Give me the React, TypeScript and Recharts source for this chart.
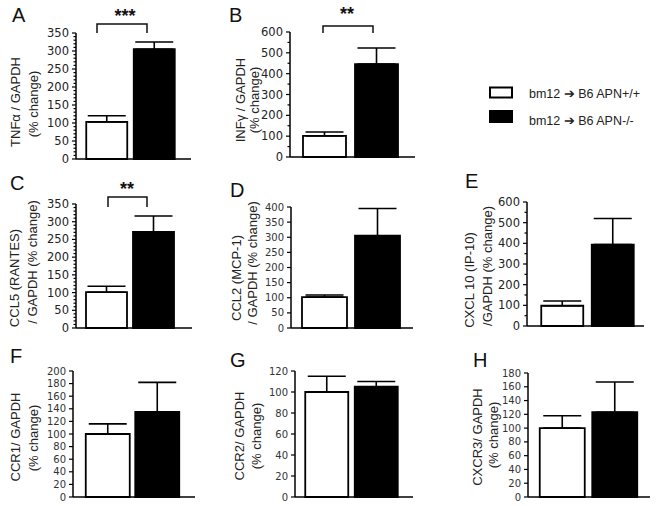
import React from 'react';
import { BarChart, Bar, XAxis, YAxis, Cell, ErrorBar } from 'recharts';

// ---- data ----
const categories = ['bm12 ➔ B6 APN+/+', 'bm12 ➔ B6 APN-/-'];

const tnfMean = [103, 305];
const tnfErr = [17, 20];
const tnfTicks = [0, 50, 100, 150, 200, 250, 300, 350];

const infMean = [101, 446];
const infErr = [19, 77];
const infTicks = [0, 100, 200, 300, 400, 500, 600];

const ccl5Mean = [101, 271];
const ccl5Err = [17, 45];
const ccl5Ticks = [0, 50, 100, 150, 200, 250, 300, 350];

const ccl2Mean = [102, 305];
const ccl2Err = [7, 90];
const ccl2Ticks = [0, 50, 100, 150, 200, 250, 300, 350, 400];

const cxcl10Mean = [98, 394];
const cxcl10Err = [23, 126];
const cxcl10Ticks = [0, 100, 200, 300, 400, 500, 600];

const ccr1Mean = [100, 135];
const ccr1Err = [16, 47];
const ccr1Ticks = [0, 20, 40, 60, 80, 100, 120, 140, 160, 180, 200];

const ccr2Mean = [100, 105];
const ccr2Err = [15, 5];
const ccr2Ticks = [0, 20, 40, 60, 80, 100, 120];

const cxcr3Mean = [100, 123];
const cxcr3Err = [18, 44];
const cxcr3Ticks = [0, 20, 40, 60, 80, 100, 120, 140, 160, 180];

const build = (mean: number[], err: number[]) =>
  categories.map((name, i) => ({ name, value: mean[i], err: [0, err[i]] }));

const FILLS = ['#ffffff', '#000000'];

type PanelCfg = {
  data: { name: string; value: number; err: number[] }[];
  ticks: number[];
  minor: number;
  axisX: number;
  right: number;
  yTop: number;
  yBot: number;
  padL: number;
  padR: number;
  barSize: number;
  tickFont: number;
  tickColor: string;
};

const panels: PanelCfg[] = [
  { data: build(tnfMean, tnfErr), ticks: tnfTicks, minor: 10, axisX: 76, right: 191, yTop: 33, yBot: 159, padL: 7.25, padR: 12.75, barSize: 41, tickFont: 11.5, tickColor: '#222' },
  { data: build(infMean, infErr), ticks: infTicks, minor: 50, axisX: 290, right: 415, yTop: 32, yBot: 157, padL: 8, padR: 13, barSize: 43, tickFont: 11.5, tickColor: '#222' },
  { data: build(ccl5Mean, ccl5Err), ticks: ccl5Ticks, minor: 10, axisX: 76, right: 192, yTop: 204, yBot: 328, padL: 7, padR: 15, barSize: 41, tickFont: 11.5, tickColor: '#222' },
  { data: build(ccl2Mean, ccl2Err), ticks: ccl2Ticks, minor: 0, axisX: 291, right: 413, yTop: 207, yBot: 328, padL: 7, padR: 9, barSize: 45, tickFont: 10, tickColor: '#333' },
  { data: build(cxcl10Mean, cxcl10Err), ticks: cxcl10Ticks, minor: 50, axisX: 527, right: 644, yTop: 202, yBot: 326, padL: 10.25, padR: 5.75, barSize: 42, tickFont: 11.5, tickColor: '#222' },
  { data: build(ccr1Mean, ccr1Err), ticks: ccr1Ticks, minor: 0, axisX: 73, right: 195, yTop: 371, yBot: 497, padL: 9.75, padR: 13.25, barSize: 44, tickFont: 10, tickColor: '#333' },
  { data: build(ccr2Mean, ccr2Err), ticks: ccr2Ticks, minor: 0, axisX: 295, right: 413, yTop: 371, yBot: 497, padL: 7.25, padR: 11.75, barSize: 43, tickFont: 10, tickColor: '#333' },
  { data: build(cxcr3Mean, cxcr3Err), ticks: cxcr3Ticks, minor: 0, axisX: 528, right: 650, yTop: 373, yBot: 497, padL: 7.75, padR: 9.25, barSize: 45, tickFont: 10, tickColor: '#333' },
];

const YW = 45;
const MT = 8;
const MR = 5;
const XH = 6;

const makeTick = (majors: number[], fontSize: number, color: string) => (props: any) => {
  const { x, y, payload } = props;
  const v = payload.value;
  const isMajor = majors.includes(v);
  return (
    <g>
      <line x1={x - (isMajor ? 4 : 2.5)} x2={x} y1={y} y2={y} stroke="#000" strokeWidth={1.2} />
      {isMajor && (
        <text x={x - 7} y={y} textAnchor="end" dominantBaseline="central" fontSize={fontSize} fill={color} fontFamily="DejaVu Sans">
          {v}
        </text>
      )}
    </g>
  );
};

const Panel = ({ p }: { p: PanelCfg }) => {
  const W = YW + (p.right - p.axisX) + MR;
  const H = MT + (p.yBot - p.yTop) + XH;
  const max = p.ticks[p.ticks.length - 1];
  const allTicks: number[] = [];
  if (p.minor > 0) {
    for (let v = 0; v <= max + 1e-9; v += p.minor) allTicks.push(v);
  } else {
    allTicks.push(...p.ticks);
  }
  return (
    <div style={{ position: 'absolute', left: p.axisX - YW, top: p.yTop - MT }}>
      <BarChart width={W} height={H} data={p.data} margin={{ top: MT, right: MR, bottom: 0, left: 0 }} barCategoryGap={0}>
        <XAxis
          dataKey="name"
          type="category"
          height={XH}
          tick={false}
          tickLine={false}
          axisLine={{ stroke: '#000', strokeWidth: 1.5 }}
          padding={{ left: p.padL, right: p.padR }}
        />
        <YAxis
          width={YW}
          domain={[0, max]}
          ticks={allTicks}
          interval={0}
          tickSize={0}
          tickMargin={0}
          tickLine={false}
          axisLine={{ stroke: '#000', strokeWidth: 1.5 }}
          tick={makeTick(p.ticks, p.tickFont, p.tickColor)}
        />
        <Bar dataKey="value" barSize={p.barSize} isAnimationActive={false} stroke="#000" strokeWidth={1.8}>
          {p.data.map((d, i) => (
            <Cell key={d.name} fill={FILLS[i]} stroke="#000" />
          ))}
          <ErrorBar dataKey="err" width={19} strokeWidth={1.6} stroke="#000" direction="y" isAnimationActive={false} />
        </Bar>
      </BarChart>
    </div>
  );
};

const LBL = { fontFamily: 'Liberation Sans, Arial, sans-serif', fontSize: 13, fill: '#222' } as const;
const LETTER = { fontFamily: 'Liberation Sans, Arial, sans-serif', fontSize: 20, fill: '#111' } as const;
const STAR = { fontFamily: 'Liberation Sans, Arial, sans-serif', fontSize: 18, fontWeight: 700, fill: '#111' } as const;

const VLabel = ({ x, y, text }: { x: number; y: number; text: string }) => (
  <text x={x} y={y} transform={`rotate(-90 ${x} ${y})`} textAnchor="middle" dominantBaseline="central" {...LBL}>
    {text}
  </text>
);

const Bracket = ({ x1, x2, yTop, yBot }: { x1: number; x2: number; yTop: number; yBot: number }) => (
  <path d={`M${x1} ${yBot} L${x1} ${yTop} L${x2} ${yTop} L${x2} ${yBot}`} fill="none" stroke="#111" strokeWidth={1.5} />
);

export default function App() {
  return (
    <div style={{ position: 'absolute', left: 0, top: 0, width: 660, height: 506, background: '#fff', overflow: 'hidden' }}>
      {panels.map((p, i) => (
        <Panel key={i} p={p} />
      ))}
      <svg width={660} height={506} style={{ position: 'absolute', left: 0, top: 0, pointerEvents: 'none' }}>
        {/* panel letters */}
        <text x={12} y={22} {...LETTER}>A</text>
        <text x={229} y={22} {...LETTER}>B</text>
        <text x={10} y={190} {...LETTER}>C</text>
        <text x={230} y={197} {...LETTER}>D</text>
        <text x={465} y={188} {...LETTER}>E</text>
        <text x={10} y={363} {...LETTER}>F</text>
        <text x={230} y={367} {...LETTER}>G</text>
        <text x={473} y={367} {...LETTER}>H</text>

        {/* y labels */}
        <VLabel x={15} y={102} text="TNFα / GAPDH" />
        <VLabel x={33} y={104} text="(% change)" />
        <VLabel x={240} y={100} text="INFγ / GAPDH" />
        <VLabel x={254} y={100} text="(% change)" />
        <VLabel x={14} y={278} text="CCL5 (RANTES)" />
        <VLabel x={32} y={262} text="/ GAPDH (% change)" />
        <VLabel x={236} y={278} text="CCL2 (MCP-1)" />
        <VLabel x={252} y={263} text="/ GAPDH  (% change)" />
        <VLabel x={469} y={280} text="CXCL 10 (IP-10)" />
        <VLabel x={487} y={266} text="/GAPDH (% change)" />
        <VLabel x={15.5} y={437} text="CCR1/ GAPDH" />
        <VLabel x={33} y={438} text="(% change)" />
        <VLabel x={239} y={436} text="CCR2/ GAPDH" />
        <VLabel x={256} y={436} text="(% change)" />
        <VLabel x={477} y={437} text="CXCR3/ GAPDH" />
        <VLabel x={493} y={435} text="(% change)" />

        {/* significance */}
        <Bracket x1={97} x2={147} yTop={24} yBot={33} />
        <text x={125} y={22} textAnchor="middle" {...STAR}>***</text>
        <Bracket x1={323} x2={373} yTop={26} yBot={33} />
        <text x={347} y={20} textAnchor="middle" {...STAR}>**</text>
        <Bracket x1={108} x2={147} yTop={197} yBot={207} />
        <text x={127} y={195} textAnchor="middle" {...STAR}>**</text>

        {/* legend */}
        <rect x={490} y={87.5} width={22} height={10} fill="#fff" stroke="#000" strokeWidth={2} />
        <rect x={489} y={110} width={24} height={13} fill="#000" />
        <text x={529} y={98} fontFamily="Liberation Sans, Arial, sans-serif" fontSize={12.5} fill="#222">{categories[0]}</text>
        <text x={529} y={125} fontFamily="Liberation Sans, Arial, sans-serif" fontSize={12.5} fill="#222">{categories[1]}</text>
      </svg>
    </div>
  );
}
